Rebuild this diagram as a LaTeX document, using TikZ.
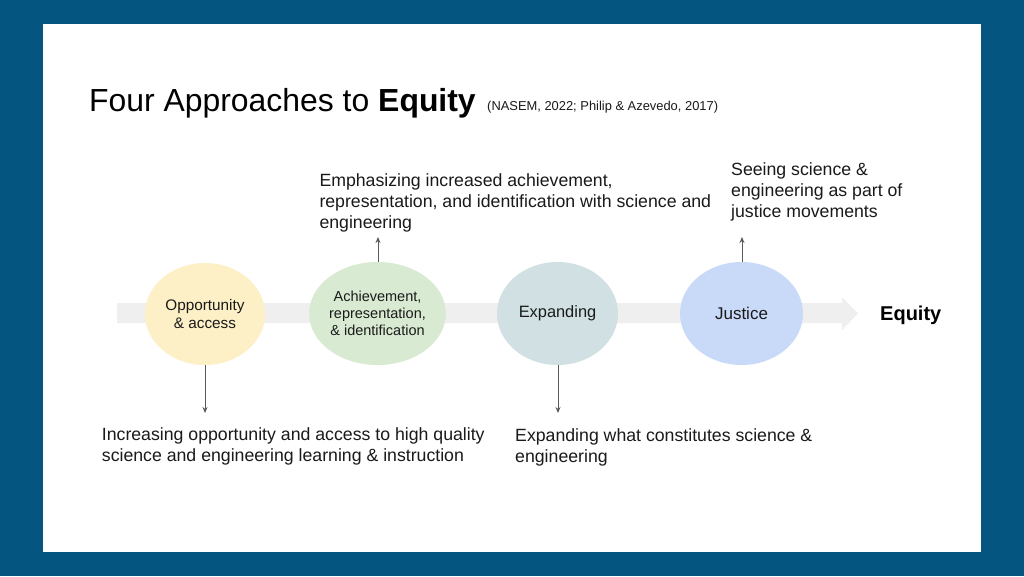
\documentclass[tikz,border=0pt]{standalone}
\usepackage{fontspec}
\setmainfont{Liberation Sans}
\usetikzlibrary{arrows.meta,shapes.geometric}
\definecolor{bgblue}{HTML}{04557F}
\definecolor{band}{HTML}{EFEFEF}
\definecolor{cyel}{HTML}{FDF0C6}
\definecolor{cgrn}{HTML}{D9EAD3}
\definecolor{ccyan}{HTML}{D0E0E3}
\definecolor{cblue}{HTML}{C9DAF8}
\definecolor{txt}{HTML}{1A1A1A}
\definecolor{conn}{HTML}{595959}
\tikzset{
  stage/.style={ellipse, draw=none, inner sep=0pt, align=center, text=txt},
  desc/.style={anchor=north west, inner sep=0pt, align=left, text=txt, font=\fontsize{17.7}{21}\selectfont},
  connarrow/.style={draw=conn, line width=0.9pt, -{Stealth[length=6pt,width=5pt]}}
}
\begin{document}
\begin{tikzpicture}[x=1pt,y=-1pt]
\useasboundingbox (0,0) rectangle (1024,576);
\fill[bgblue] (0,0) rectangle (1024,576);
\fill[white] (43,24) rectangle (981,552);
% title
\node[anchor=base west, inner sep=0pt, text=black, font=\fontsize{31.9}{36}\selectfont] (title) at (89,111) {Four Approaches to \textbf{Equity}};
\node[anchor=base west, inner sep=0pt, text=txt, font=\fontsize{12.9}{15}\selectfont] (cite) at (487,110) {(NASEM, 2022; Philip \& Azevedo, 2017)};
% band arrow
\fill[band] (117,303) -- (842,303) -- (842,297) -- (858,313.5) -- (842,330) -- (842,323) -- (117,323) -- cycle;
% stages
\node[stage, fill=cyel, minimum width=120pt, minimum height=102pt, font=\fontsize{15.3}{17.5}\selectfont] (opp) at (205,314) {Opportunity\\\& access};
\node[stage, fill=cgrn, minimum width=134pt, minimum height=103pt, font=\fontsize{14.5}{16.7}\selectfont] (ach) at (377.5,313.5) {Achievement,\\representation,\\\& identification};
\node[stage, fill=ccyan, minimum width=121pt, minimum height=103pt, font=\fontsize{16.4}{19}\selectfont] (exp) at (557.5,313.5) {Expanding};
\node[stage, fill=cblue, minimum width=123pt, minimum height=103pt, font=\fontsize{17}{19}\selectfont] (jus) at (741.5,313.5) {Justice};
\node[anchor=west, inner sep=0pt, text=black, font=\fontsize{20}{24}\selectfont\bfseries] (equity) at (880,315.5) {Equity};
% descriptions
\node[desc] (dach) at (319.3,173.1) {Emphasizing increased achievement,\\representation, and identification with science and\\engineering};
\node[desc] (djus) at (731,162.1) {Seeing science \&\\engineering as part of\\justice movements};
\node[desc] (dopp) at (101.7,427.1) {Increasing opportunity and access to high quality\\science and engineering learning \& instruction};
\node[desc] (dexp) at (515,428) {Expanding what constitutes science \&\\engineering};
% connector ends
\coordinate (achend) at (378,237);
\coordinate (jusend) at (742,237);
\coordinate (oppend) at (205,413);
\coordinate (expend) at (558,413);
\draw[connarrow] (ach.north -| achend) -- (achend);
\draw[connarrow] (jus.north -| jusend) -- (jusend);
\draw[connarrow] (opp.south -| oppend) -- (oppend);
\draw[connarrow] (exp.south -| expend) -- (expend);
\end{tikzpicture}
\end{document}
